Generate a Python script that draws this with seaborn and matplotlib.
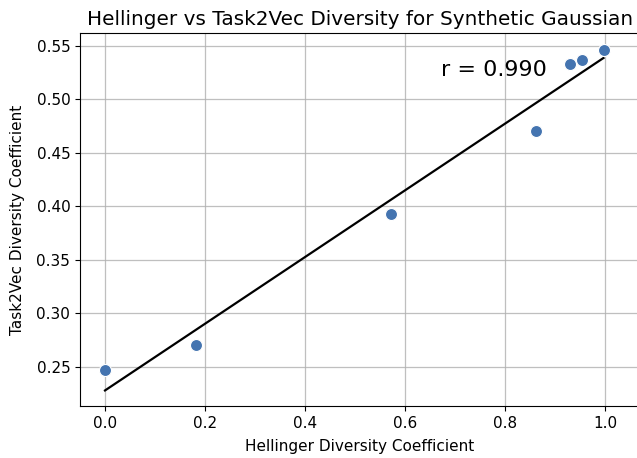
import numpy as np
import matplotlib
matplotlib.use("Agg")
import matplotlib.pyplot as plt
import seaborn as sns

# Hellinger vs Task2Vec diversity coefficients (synthetic Gaussian)
hellinger_div = [0.0, 0.181, 0.573, 0.861, 0.930, 0.953, 0.997]
task2vec_div = [0.247, 0.271, 0.393, 0.470, 0.533, 0.537, 0.546]
r_label = "r = 0.990"

plt.rcParams["font.family"] = ["DejaVu Sans"]

fig = plt.figure(figsize=(6.37, 4.58), dpi=100)
ax = fig.add_axes([80 / 637, 1 - 406 / 458, 560 / 637, (406 - 33) / 458])

sns.scatterplot(x=hellinger_div, y=task2vec_div, s=75, color="#4474b0",
                edgecolor="white", linewidth=0.8, ax=ax, zorder=3)
sns.regplot(x=np.array(hellinger_div), y=np.array(task2vec_div), scatter=False,
            ci=None, color="black", line_kws={"linewidth": 1.6}, ax=ax)

ax.text(0.672, 0.527, r_label, fontsize=16, va="center", ha="left")

ax.set_xlim(-0.05, 1.07)
ax.set_ylim(0.2136, 0.562)
ax.set_xticks([0.0, 0.2, 0.4, 0.6, 0.8, 1.0])
ax.set_yticks([0.25, 0.30, 0.35, 0.40, 0.45, 0.50, 0.55])
ax.grid(True, color="#b0b0b0", linewidth=0.9, alpha=0.8)
ax.tick_params(labelsize=11)

ax.set_title("Hellinger vs Task2Vec Diversity for Synthetic Gaussian", fontsize=14.4)
ax.set_xlabel("Hellinger Diversity Coefficient", fontsize=11, labelpad=6)
ax.set_ylabel("Task2Vec Diversity Coefficient", fontsize=11, labelpad=8)

fig.savefig("out.png", dpi=100)
